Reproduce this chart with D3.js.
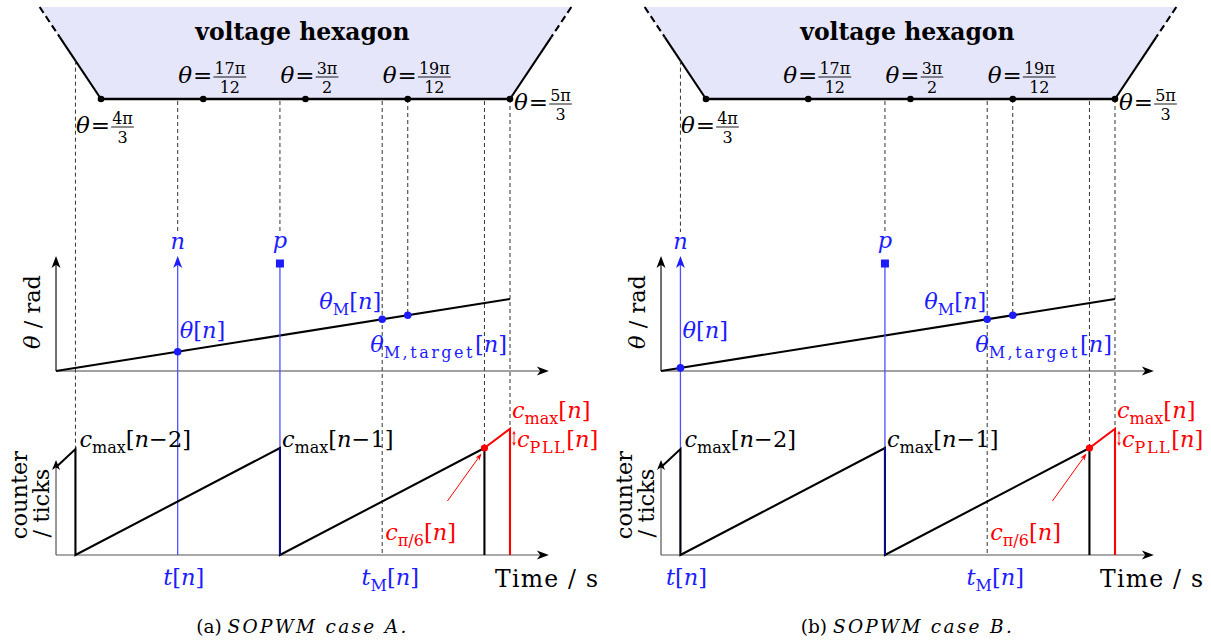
<!DOCTYPE html>
<html><head><meta charset="utf-8">
<script src="https://cdn.jsdelivr.net/npm/d3@7"></script>
<style>
body{margin:0;background:#fff}
svg{display:block}
text{font-family:"DejaVu Serif","Liberation Serif",serif}
</style></head><body>
<svg id="chart" width="1211" height="643"></svg>
<script>
// ---------------- data ----------------
const panelNames = ["(a) ", "(b) "];
const panelCaptions = ["SOPWM case A.", "SOPWM case B."];
const hexVertexT = [0, 1, 2, 3, 4];                 // θ = 4π/3 + k·π/12
const hexVertexNum = ["4π", "17π", "3π", "19π", "5π"];
const hexVertexDen = ["3", "12", "2", "12", "3"];
const hexEdgeT = [-0.6, 0, 4, 4.6];
const hexEdgeV = [1, 0, 0, 1];
const thetaT = [-0.44, 4];
const thetaV = [0, 1];
const nT = [0.75, -0.25];
const pT = [1.75, 1.75];
const tMT = [2.75, 2.75];
const targetT = [3, 3];
const resetT = [-0.25, 1.75, 3.75];
const sawT = [-0.44, -0.25, -0.25, 1.75, 1.75, 3.75, 3.75];
const sawV = [0.82, 0.99, 0, 1, 0, 1, 0];
const pllT = [3.75, 4, 4];
const pllV = [1, 1.18, 0];
const axisT = [-0.44, 4.38];

// ---------------- layout ----------------
const L = {x0: [101, 706], pxT: 102.25, hexBase: 99, hexTop: 7,
  thY0: 371, thY1: 299, cY0: 555, cY1: 448, fs: 22.5, sub: 16};
const BLUE = "#1c1cff", LBLUE = "#5050ff", RED = "#ff0000", FILL = "#e6e6fb";

const svg = d3.select("#chart");

function mtext(g, x, y, parts, o = {}) {
  const size = o.size || L.fs;
  const t = g.append("text").attr("x", x).attr("y", y)
    .attr("text-anchor", o.anchor || "start").attr("fill", o.fill || "#000")
    .style("font-size", size + "px");
  let cur = 0;
  parts.forEach(p => {
    const sh = p.sub ? size * 0.27 : 0;
    const ts = t.append("tspan").attr("dy", sh - cur)
      .style("font-style", p.i ? "italic" : "normal")
      .style("font-size", (p.sub ? (o.sub || L.sub) : size) + "px")
      .text(p.t);
    if (p.ls) ts.style("letter-spacing", p.ls + "px");
    cur = sh;
  });
  return t;
}
function arrowHead(g, x, y, ang, len, w, color) {
  g.append("path").attr("d", `M0,0L${-len},${-w}L${-len * 0.72},0L${-len},${w}Z`)
    .attr("fill", color).attr("transform", `translate(${x},${y}) rotate(${ang})`);
}
function thetaFrac(g, x, yb, num, den) {
  const t = g.append("text").attr("x", x).attr("y", yb).style("font-size", "23px");
  t.append("tspan").style("font-style", "italic").text("θ");
  t.append("tspan").attr("dx", 1).text("=");
  const w = t.node().getComputedTextLength() + 1;
  const nt = g.append("text").attr("y", yb - 9).style("font-size", "16px").text(num);
  const dt = g.append("text").attr("y", yb + 9.5).style("font-size", "16px").text(den);
  const fw = Math.max(nt.node().getComputedTextLength(), dt.node().getComputedTextLength()) + 2;
  const cx = x + w + 1 + fw / 2;
  nt.attr("x", cx).attr("text-anchor", "middle");
  dt.attr("x", cx).attr("text-anchor", "middle");
  g.append("line").attr("x1", x + w + 1).attr("x2", x + w + 1 + fw)
    .attr("y1", yb - 6).attr("y2", yb - 6).attr("stroke", "#000").attr("stroke-width", 0.9);
}

panelNames.forEach((pname, i) => {
  const g = svg.append("g");
  const x = d3.scaleLinear().domain([0, 4]).range([L.x0[i], L.x0[i] + 4 * L.pxT]);
  const yH = d3.scaleLinear().domain([0, 1]).range([L.hexBase, L.hexTop]);
  const yT = d3.scaleLinear().domain([0, 1]).range([L.thY0, L.thY1]);
  const yC = d3.scaleLinear().domain([0, 1]).range([L.cY0, L.cY1]);
  const thetaAt = d3.scaleLinear().domain(thetaT).range(thetaV);
  const leftEdge = d3.scaleLinear().domain([hexEdgeT[0], hexEdgeT[1]]).range([hexEdgeV[0], hexEdgeV[1]]);
  const leftEdgeInv = leftEdge.copy().domain([hexEdgeV[0], hexEdgeV[1]]).range([hexEdgeT[0], hexEdgeT[1]]);
  const rightEdgeInv = d3.scaleLinear().domain([hexEdgeV[2], hexEdgeV[3]]).range([hexEdgeT[2], hexEdgeT[3]]);

  // hexagon fill
  const pts = hexEdgeT.map((t, k) => [x(t), yH(hexEdgeV[k])]);
  g.append("path").attr("d", d3.line()(pts) + "Z").attr("fill", FILL);
  const vs = 0.67;
  const edge = (a, b, dash) => g.append("line").attr("x1", a[0]).attr("y1", a[1]).attr("x2", b[0]).attr("y2", b[1])
    .attr("stroke", "#000").attr("stroke-width", 2.1).attr("stroke-dasharray", dash ? "7,4" : null);
  edge([x(hexEdgeT[0]), yH(1)], [x(leftEdgeInv(vs)), yH(vs)], true);
  edge([x(leftEdgeInv(vs)), yH(vs)], [x(hexEdgeT[1]), yH(0)], false);
  edge([x(hexEdgeT[3]), yH(1)], [x(rightEdgeInv(vs)), yH(vs)], true);
  edge([x(rightEdgeInv(vs)), yH(vs)], [x(hexEdgeT[2]), yH(0)], false);
  g.append("line").attr("x1", x(hexEdgeT[1])).attr("x2", x(hexEdgeT[2]))
    .attr("y1", yH(0)).attr("y2", yH(0)).attr("stroke", "#000").attr("stroke-width", 2.4);

  // dashed guide lines
  const dashes = [];
  if (nT[i] !== resetT[0]) dashes.push([x(resetT[0]), yH(leftEdge(resetT[0])), yC(sawV[1])]);
  dashes.push([x(nT[i]), nT[i] < 0 ? yH(leftEdge(nT[i])) : yH(0) + 2, 232]);
  dashes.push([x(pT[i]), yH(0) + 2, 232]);
  dashes.push([x(tMT[i]), yH(0) + 2, yC(0)]);
  dashes.push([x(targetT[i]), yH(0), yT(thetaAt(targetT[i]))]);
  dashes.push([x(resetT[2]), yH(0) + 2, yC(pllV[0])]);
  dashes.push([x(pllT[1]), yH(0), yC(pllV[1])]);
  dashes.forEach(d => g.append("line").attr("x1", d[0]).attr("x2", d[0]).attr("y1", d[1]).attr("y2", d[2])
    .attr("stroke", "#333").attr("stroke-width", 1).attr("stroke-dasharray", "4,3"));

  // hexagon vertices + labels
  hexVertexT.forEach((t, k) => {
    g.append("circle").attr("cx", x(t)).attr("cy", yH(0)).attr("r", 3.3).attr("fill", "#000");
  });
  hexVertexT.forEach((t, k) => {
    if (k === 0) thetaFrac(g, x(t) - 25, 133, hexVertexNum[k], hexVertexDen[k]);
    else if (k === 4) thetaFrac(g, x(t) + 4, 110, hexVertexNum[k], hexVertexDen[k]);
    else thetaFrac(g, x(t) - 25, 83, hexVertexNum[k], hexVertexDen[k]);
  });
  g.append("text").attr("x", (x(axisT[0]) + x(axisT[1])) / 2).attr("y", 40).attr("text-anchor", "middle")
    .style("font-size", "23.5px").style("font-weight", "bold").text("voltage hexagon");

  // ---- theta plot ----
  const ax = x(axisT[0]);
  g.append("line").attr("x1", ax).attr("x2", x(axisT[1]) - 4).attr("y1", yT(0)).attr("y2", yT(0))
    .attr("stroke", "#444").attr("stroke-width", 1.2);
  arrowHead(g, x(axisT[1]), yT(0), 0, 12, 4.5, "#000");
  g.append("line").attr("x1", ax).attr("x2", ax).attr("y1", yT(0)).attr("y2", 260)
    .attr("stroke", "#111").attr("stroke-width", 1.2);
  arrowHead(g, ax, 256, -90, 12, 4.5, "#000");
  g.append("path").attr("d", d3.line()(thetaT.map((t, k) => [x(t), yT(thetaV[k])])))
    .attr("stroke", "#000").attr("stroke-width", 2.1).attr("fill", "none");

  // blue n arrow and p line
  g.append("line").attr("x1", x(nT[i])).attr("x2", x(nT[i])).attr("y1", yC(0)).attr("y2", 262)
    .attr("stroke", LBLUE).attr("stroke-width", 1.3);
  arrowHead(g, x(nT[i]), 256, -90, 12, 4.5, BLUE);
  g.append("line").attr("x1", x(pT[i])).attr("x2", x(pT[i])).attr("y1", yC(0)).attr("y2", 263)
    .attr("stroke", LBLUE).attr("stroke-width", 1.3);
  g.append("rect").attr("x", x(pT[i]) - 4).attr("y", 259.5).attr("width", 8).attr("height", 8).attr("fill", BLUE);
  mtext(g, x(nT[i]), 249, [{t: "n", i: 1}], {anchor: "middle", fill: BLUE});
  mtext(g, x(pT[i]), 248, [{t: "p", i: 1}], {anchor: "middle", fill: BLUE});

  // theta dots
  [nT[i], tMT[i], targetT[i]].forEach(t =>
    g.append("circle").attr("cx", x(t)).attr("cy", yT(thetaAt(t))).attr("r", 3.8).attr("fill", BLUE));
  mtext(g, x(nT[i]) + 2, 338, [{t: "θ", i: 1}, {t: "[", i: 0}, {t: "n", i: 1}, {t: "]", i: 0}], {fill: BLUE});
  mtext(g, x(tMT[i]) - 1, 309, [{t: "θ", i: 1}, {t: "M", sub: 1}, {t: "[", i: 0}, {t: "n", i: 1}, {t: "]", i: 0}], {fill: BLUE, anchor: "end"});
  mtext(g, x(tMT[i]) - 12, 352, [{t: "θ", i: 1}, {t: "M,target", sub: 1, ls: 2.5}, {t: "[", i: 0}, {t: "n", i: 1}, {t: "]", i: 0}], {fill: BLUE});

  // axis label theta / rad
  g.append("text").attr("transform", `translate(${ax - 16},312) rotate(-90)`).attr("text-anchor", "middle")
    .style("font-size", "22.5px").call(t => {
      t.append("tspan").style("font-style", "italic").text("θ");
      t.append("tspan").text(" / rad");
    });

  // ---- counter plot ----
  g.append("line").attr("x1", ax).attr("x2", x(axisT[1]) - 4).attr("y1", yC(0)).attr("y2", yC(0))
    .attr("stroke", "#555").attr("stroke-width", 1.2);
  arrowHead(g, x(axisT[1]), yC(0), 0, 12, 4.5, "#000");
  g.append("line").attr("x1", ax).attr("x2", ax).attr("y1", yC(0)).attr("y2", 464)
    .attr("stroke", "#555").attr("stroke-width", 1.2);
  arrowHead(g, ax, 460, -90, 10, 4, "#000");
  g.append("path").attr("d", d3.line()(sawT.map((t, k) => [x(t), yC(sawV[k])])))
    .attr("stroke", "#000").attr("stroke-width", 2.1).attr("fill", "none").attr("stroke-linejoin", "miter");
  g.append("line").attr("x1", x(pT[i])).attr("x2", x(pT[i])).attr("y1", yC(0)).attr("y2", yC(1))
    .attr("stroke", "#1010c0").attr("stroke-width", 1.4);
  g.append("path").attr("d", d3.line()(pllT.map((t, k) => [x(t), yC(pllV[k])])))
    .attr("stroke", RED).attr("stroke-width", 2.1).attr("fill", "none");
  g.append("circle").attr("cx", x(pllT[0])).attr("cy", yC(pllV[0])).attr("r", 3.6).attr("fill", RED);

  const ptx = x(pllT[0]), pty = yC(pllV[0]);
  g.append("line").attr("x1", ptx - 37).attr("y1", pty + 53).attr("x2", ptx - 4).attr("y2", pty + 7)
    .attr("stroke", RED).attr("stroke-width", 1);
  arrowHead(g, ptx - 3, pty + 5.5, Math.atan2(-46, 33) * 180 / Math.PI, 7, 2.5, RED);
  const dx = x(pllT[1]) + 4;
  g.append("line").attr("x1", dx).attr("x2", dx).attr("y1", yC(pllV[1]) + 4).attr("y2", yC(pllV[0]) - 4)
    .attr("stroke", RED).attr("stroke-width", 0.8);
  arrowHead(g, dx, yC(pllV[1]) + 2, -90, 4, 1.8, RED);
  arrowHead(g, dx, yC(pllV[0]) - 2, 90, 4, 1.8, RED);

  mtext(g, x(resetT[0]) + 4, 447, [{t: "c", i: 1}, {t: "max", sub: 1}, {t: "[", i: 0}, {t: "n", i: 1}, {t: "−2]", i: 0}]);
  mtext(g, x(resetT[1]) + 2, 447, [{t: "c", i: 1}, {t: "max", sub: 1}, {t: "[", i: 0}, {t: "n", i: 1}, {t: "−1]", i: 0}]);
  mtext(g, x(pllT[1]) + 2, 418, [{t: "c", i: 1}, {t: "max", sub: 1}, {t: "[", i: 0}, {t: "n", i: 1}, {t: "]", i: 0}], {fill: RED});
  mtext(g, x(pllT[1]) + 7, 447, [{t: "c", i: 1}, {t: "PLL", sub: 1, ls: 1.5}, {t: "[", i: 0}, {t: "n", i: 1}, {t: "]", i: 0}], {fill: RED});
  mtext(g, x(tMT[i]) + 3, 540, [{t: "c", i: 1}, {t: "π/6", sub: 1}, {t: "[", i: 0}, {t: "n", i: 1}, {t: "]", i: 0}], {fill: RED});

  g.append("text").attr("transform", `translate(${ax - 29},495) rotate(-90)`).attr("text-anchor", "middle")
    .style("font-size", "22.5px").text("counter");
  g.append("text").attr("transform", `translate(${ax - 7},503) rotate(-90)`).attr("text-anchor", "middle")
    .style("font-size", "22.5px").text("/ ticks");

  mtext(g, x(nT[i]) + 6, 585, [{t: "t", i: 1}, {t: "[", i: 0}, {t: "n", i: 1}, {t: "]", i: 0}], {fill: BLUE, anchor: "middle"});
  mtext(g, x(tMT[i]) + 8, 585, [{t: "t", i: 1}, {t: "M", sub: 1}, {t: "[", i: 0}, {t: "n", i: 1}, {t: "]", i: 0}], {fill: BLUE, anchor: "middle"});
  g.append("text").attr("x", x(4) - 15).attr("y", 587).style("font-size", "23.5px").attr("textLength", 103)
    .attr("lengthAdjust", "spacing").text("Time / s");

  g.append("text").attr("x", (x(axisT[0]) + x(axisT[1])) / 2).attr("y", 633).attr("text-anchor", "middle")
    .style("font-size", "18.5px").call(t => {
      t.append("tspan").text(pname);
      t.append("tspan").style("font-style", "italic").style("letter-spacing", "2.3px").text(panelCaptions[i]);
    });
});
</script>
</body></html>
